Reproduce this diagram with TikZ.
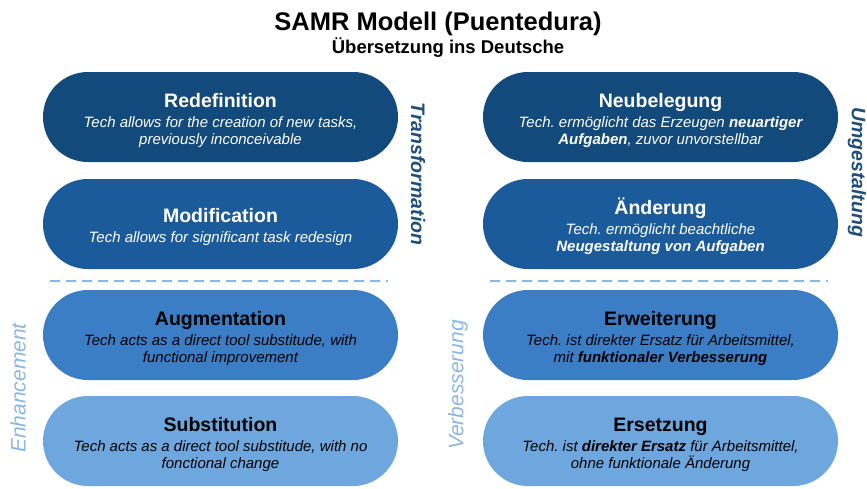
\documentclass[tikz,border=0pt]{standalone}
\usepackage{fontspec}
\setmainfont{Liberation Sans}
\usepackage{xcolor}
\usepackage{tikz}
\frenchspacing
\definecolor{B0}{HTML}{134A7C}
\definecolor{B1}{HTML}{1C5B9B}
\definecolor{B2}{HTML}{3B7EC5}
\definecolor{B3}{HTML}{6EA7DE}
\definecolor{L0}{HTML}{1F4E7A}
\definecolor{L1}{HTML}{8CB6E2}
\newcommand{\samrhead}[1]{{\fontsize{19.5}{20}\selectfont\bfseries\upshape\rule{0pt}{21pt}#1}}
\newcommand{\samrtext}{\fontsize{15}{17.5}\selectfont\itshape}

\begin{document}
\begin{tikzpicture}[x=1pt,y=-1pt]
\tikzstyle{samr}=[shape=rectangle, rounded corners=44.9pt, minimum width=355pt, minimum height=90pt, inner sep=0pt, align=center, font=\samrtext]
\tikzstyle{lvltop}=[samr, text=white]
\tikzstyle{lvlbot}=[samr, text=black]
\tikzstyle{sidedark}=[text=L0, font=\fontsize{19.5}{20}\selectfont\bfseries\itshape]
\tikzstyle{sidelight}=[text=L1, font=\fontsize{21}{22}\selectfont\itshape]
\tikzstyle{sep}=[draw=L1, line width=2pt, dash pattern=on 10pt off 6pt]
\useasboundingbox (0,0) rectangle (867,488);
%
\node[anchor=base, font=\fontsize{25.5}{26}\selectfont\bfseries](title) at (438,30){SAMR Modell (Puentedura)};
\node[anchor=base, font=\fontsize{18.5}{19}\selectfont\bfseries](subtitle) at (448,53){Übersetzung ins Deutsche};
%
\node[lvltop, fill=B0](redef) at (220.5,117){\samrhead{Redefinition}\\[2.5pt]Tech allows for the creation of new tasks,\\previously inconceivable};
\node[lvltop, fill=B1](modif) at (220.5,224){\samrhead{Modification}\\[2.5pt]Tech allows for significant task redesign};
\node[lvlbot, fill=B2](augm) at (220.5,335){\samrhead{Augmentation}\\[2.5pt]Tech acts as a direct tool substitude, with\\functional improvement};
\node[lvlbot, fill=B3](subst) at (220.5,441){\samrhead{Substitution}\\[2.5pt]Tech acts as a direct tool substitude, with no\\fonctional change};
%
\node[lvltop, fill=B0](neubel) at (660.5,117){\samrhead{Neubelegung}\\[2.5pt]Tech. ermöglicht das Erzeugen \textbf{neuartiger}\\\textbf{Aufgaben}, zuvor unvorstellbar};
\node[lvltop, fill=B1](aender) at (660.5,224){\samrhead{Änderung}\\[2.5pt]Tech. ermöglicht beachtliche\\\textbf{Neugestaltung von Aufgaben}};
\node[lvlbot, fill=B2](erweit) at (660.5,335){\samrhead{Erweiterung}\\[2.5pt]Tech. ist direkter Ersatz für Arbeitsmittel,\\mit \textbf{funktionaler Verbesserung}};
\node[lvlbot, fill=B3](ersetz) at (660.5,441){\samrhead{Ersetzung}\\[2.5pt]Tech. ist \textbf{direkter Ersatz} für Arbeitsmittel,\\ohne funktionale Änderung};
%
\node[sidedark, rotate=-90](transf) at (418,174){Transformation};
\node[sidedark, rotate=-90](umgest) at (857,172){Umgestaltung};
\node[sidelight, rotate=90](enhanc) at (18,388){Enhancement};
\node[sidelight, rotate=90](verbes) at (458,385){Verbesserung};
%
\coordinate (sepl0) at (50,281);
\coordinate (sepl1) at (388,281);
\coordinate (sepr0) at (490,281);
\coordinate (sepr1) at (828,281);
\draw[sep] (sepl0) -- (sepl1);
\draw[sep] (sepr0) -- (sepr1);
%
\end{tikzpicture}
\end{document}
